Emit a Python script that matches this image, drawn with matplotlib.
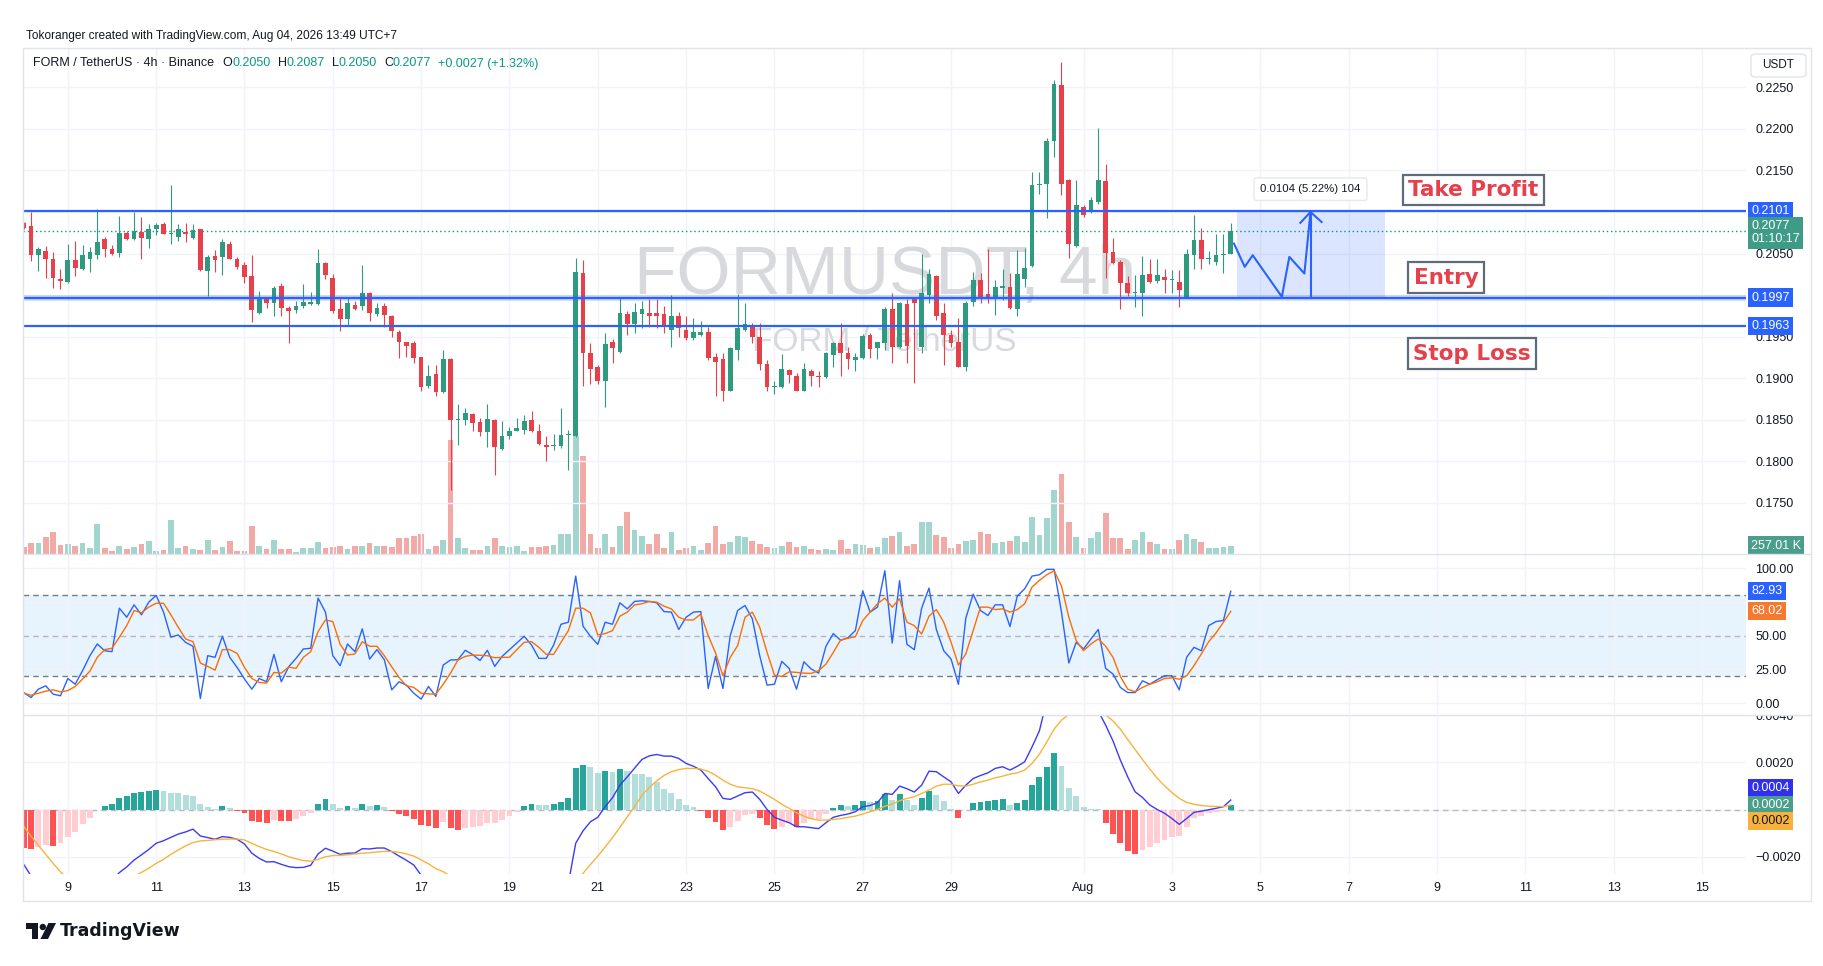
import matplotlib
matplotlib.use("Agg")
import matplotlib.pyplot as plt
import matplotlib.dates as mdates
from matplotlib.patches import Rectangle, Ellipse, Polygon, FancyBboxPatch
from matplotlib.lines import Line2D
from matplotlib.ticker import FuncFormatter, FixedLocator
import numpy as np
import pandas as pd

plt.rcParams['font.family'] = ['Liberation Sans', 'DejaVu Sans']

# ---------------- data (FORM/USDT 4h) ----------------
start = "2026-07-08 00:00"

opens = [
    0.2087, 0.2083, 0.2048, 0.2053, 0.2044, 0.2019, 0.2016, 0.2042, 0.2032, 0.2044,
    0.2048, 0.2068, 0.2056, 0.2051, 0.2075, 0.2067, 0.2076, 0.2068, 0.2080, 0.2086,
    0.2074, 0.2070, 0.2076, 0.2069, 0.2079, 0.2029, 0.2047, 0.2046, 0.2062, 0.2043,
    0.2036, 0.2023, 0.1978, 0.1997, 0.1990, 0.2011, 0.1985, 0.1982, 0.1987, 0.1989,
    0.1989, 0.2039, 0.2021, 0.1983, 0.1971, 0.1988, 0.1987, 0.2002, 0.1977, 0.1987,
    0.1975, 0.1956, 0.1943, 0.1942, 0.1925, 0.1890, 0.1905, 0.1883, 0.1923, 0.1850,
    0.1850, 0.1857, 0.1847, 0.1835, 0.1850, 0.1815, 0.1830, 0.1837, 0.1838, 0.1850,
    0.1836, 0.1820, 0.1818, 0.1818, 0.1832, 0.1830, 0.2026, 0.1930, 0.1913, 0.1897,
    0.1943, 0.1932, 0.1977, 0.1965, 0.1977, 0.1979, 0.1979, 0.1977, 0.1958, 0.1975,
    0.1958, 0.1948, 0.1952, 0.1956, 0.1925, 0.1923, 0.1885, 0.1934, 0.1958, 0.1963,
    0.1950, 0.1917, 0.1889, 0.1889, 0.1910, 0.1903, 0.1885, 0.1909, 0.1903, 0.1901,
    0.1928, 0.1942, 0.1930, 0.1922, 0.1924, 0.1952, 0.1936, 0.1942, 0.1983, 0.1938,
    0.1989, 0.1995, 0.1938, 0.2000, 0.2023, 0.1978, 0.1952, 0.1944, 0.1913, 0.1992,
    0.2018, 0.2001, 0.1998, 0.2009, 0.2010, 0.1983, 0.2019, 0.2035, 0.2132, 0.2134,
    0.2185, 0.2253, 0.2138, 0.2059, 0.2106, 0.2101, 0.2112, 0.2137, 0.2052, 0.2040,
    0.2014, 0.2003, 0.2003, 0.2025, 0.2017, 0.2022, 0.2018, 0.2016, 0.1997, 0.2048,
    0.2066, 0.2043, 0.2040, 0.2048, 0.2050]

highs = [
    0.2088, 0.2100, 0.2058, 0.2059, 0.2052, 0.2031, 0.2062, 0.2065, 0.2060, 0.2058,
    0.2104, 0.2070, 0.2060, 0.2095, 0.2077, 0.2100, 0.2094, 0.2085, 0.2087, 0.2088,
    0.2132, 0.2085, 0.2087, 0.2086, 0.2080, 0.2048, 0.2054, 0.2068, 0.2065, 0.2046,
    0.2040, 0.2048, 0.2005, 0.1998, 0.2011, 0.2015, 0.1987, 0.1993, 0.2013, 0.2004,
    0.2055, 0.2040, 0.2025, 0.1997, 0.1997, 0.1993, 0.2036, 0.2004, 0.1991, 0.1991,
    0.1976, 0.1958, 0.1944, 0.1945, 0.1926, 0.1916, 0.1916, 0.1934, 0.1924, 0.1869,
    0.1864, 0.1858, 0.1852, 0.1869, 0.1851, 0.1848, 0.1841, 0.1852, 0.1856, 0.1860,
    0.1845, 0.1830, 0.1833, 0.1864, 0.1838, 0.2045, 0.2042, 0.1942, 0.1916, 0.1954,
    0.1947, 0.1997, 0.1981, 0.1990, 0.1993, 0.1995, 0.1995, 0.1987, 0.2000, 0.1980,
    0.1975, 0.1973, 0.1969, 0.1962, 0.1930, 0.1930, 0.1938, 0.2001, 0.1991, 0.1966,
    0.1966, 0.1922, 0.1897, 0.1929, 0.1911, 0.1906, 0.1918, 0.1911, 0.1909, 0.1932,
    0.1944, 0.1967, 0.1937, 0.1930, 0.1953, 0.1954, 0.1944, 0.1986, 0.2002, 0.1992,
    0.1995, 0.1998, 0.2049, 0.2031, 0.2024, 0.1990, 0.1958, 0.1972, 0.1993, 0.2028,
    0.2026, 0.2056, 0.2018, 0.2032, 0.2026, 0.2054, 0.2057, 0.2148, 0.2148, 0.2189,
    0.2259, 0.2280, 0.2140, 0.2138, 0.2109, 0.2118, 0.2201, 0.2158, 0.2069, 0.2042,
    0.2023, 0.2024, 0.2047, 0.2043, 0.2044, 0.2031, 0.2030, 0.2030, 0.2055, 0.2097,
    0.2081, 0.2053, 0.2073, 0.2074, 0.2087]

lows = [
    0.2080, 0.2041, 0.2029, 0.2020, 0.2008, 0.2007, 0.2015, 0.2023, 0.2030, 0.2028,
    0.2043, 0.2046, 0.2048, 0.2046, 0.2066, 0.2066, 0.2044, 0.2057, 0.2072, 0.2073,
    0.2061, 0.2065, 0.2064, 0.2068, 0.2029, 0.1999, 0.2028, 0.2024, 0.2043, 0.2032,
    0.2015, 0.1968, 0.1977, 0.1985, 0.1975, 0.1975, 0.1942, 0.1978, 0.1985, 0.1988,
    0.1988, 0.2019, 0.1979, 0.1957, 0.1964, 0.1982, 0.1982, 0.1969, 0.1975, 0.1962,
    0.1949, 0.1924, 0.1925, 0.1918, 0.1885, 0.1888, 0.1879, 0.1882, 0.1766, 0.1819,
    0.1844, 0.1837, 0.1831, 0.1817, 0.1784, 0.1813, 0.1827, 0.1836, 0.1833, 0.1835,
    0.1819, 0.1800, 0.1814, 0.1816, 0.1789, 0.1829, 0.1891, 0.1893, 0.1893, 0.1865,
    0.1918, 0.1930, 0.1952, 0.1954, 0.1961, 0.1962, 0.1961, 0.1954, 0.1937, 0.1950,
    0.1946, 0.1946, 0.1951, 0.1922, 0.1878, 0.1873, 0.1884, 0.1922, 0.1957, 0.1942,
    0.1910, 0.1885, 0.1881, 0.1888, 0.1894, 0.1884, 0.1884, 0.1891, 0.1889, 0.1900,
    0.1913, 0.1903, 0.1911, 0.1909, 0.1923, 0.1924, 0.1923, 0.1934, 0.1918, 0.1936,
    0.1918, 0.1894, 0.1930, 0.1990, 0.1970, 0.1916, 0.1937, 0.1913, 0.1909, 0.1987,
    0.1991, 0.1990, 0.1976, 0.1994, 0.1983, 0.1975, 0.2010, 0.2034, 0.2122, 0.2093,
    0.2166, 0.2121, 0.2045, 0.2058, 0.2094, 0.2099, 0.2110, 0.2020, 0.2037, 0.1983,
    0.1999, 0.1986, 0.1975, 0.2014, 0.2014, 0.2002, 0.2003, 0.1986, 0.1996, 0.2031,
    0.2031, 0.2038, 0.2036, 0.2026, 0.2050]

closes = [
    0.2081, 0.2048, 0.2055, 0.2043, 0.2020, 0.2017, 0.2042, 0.2033, 0.2048, 0.2052,
    0.2064, 0.2056, 0.2049, 0.2075, 0.2068, 0.2077, 0.2069, 0.2079, 0.2084, 0.2074,
    0.2075, 0.2079, 0.2073, 0.2078, 0.2030, 0.2046, 0.2042, 0.2064, 0.2044, 0.2034,
    0.2022, 0.1982, 0.1997, 0.1991, 0.2009, 0.1984, 0.1981, 0.1987, 0.1992, 0.1992,
    0.2039, 0.2024, 0.1981, 0.1971, 0.1991, 0.1983, 0.2002, 0.1978, 0.1985, 0.1976,
    0.1957, 0.1943, 0.1939, 0.1924, 0.1889, 0.1903, 0.1883, 0.1923, 0.1850, 0.1851,
    0.1858, 0.1846, 0.1835, 0.1851, 0.1817, 0.1830, 0.1836, 0.1840, 0.1849, 0.1836,
    0.1821, 0.1817, 0.1819, 0.1832, 0.1833, 0.2028, 0.1930, 0.1911, 0.1897, 0.1941,
    0.1936, 0.1978, 0.1965, 0.1980, 0.1983, 0.1975, 0.1975, 0.1962, 0.1975, 0.1961,
    0.1948, 0.1955, 0.1956, 0.1924, 0.1919, 0.1885, 0.1936, 0.1960, 0.1965, 0.1950,
    0.1917, 0.1889, 0.1890, 0.1911, 0.1904, 0.1885, 0.1911, 0.1903, 0.1901, 0.1930,
    0.1942, 0.1930, 0.1923, 0.1926, 0.1951, 0.1935, 0.1943, 0.1983, 0.1938, 0.1990,
    0.1939, 0.1990, 0.2002, 0.2025, 0.1975, 0.1952, 0.1942, 0.1914, 0.1991, 0.2018,
    0.1998, 0.1997, 0.2010, 0.2011, 0.1984, 0.2025, 0.2033, 0.2133, 0.2134, 0.2185,
    0.2254, 0.2134, 0.2061, 0.2108, 0.2096, 0.2115, 0.2139, 0.2051, 0.2039, 0.2015,
    0.2003, 0.2004, 0.2024, 0.2016, 0.2024, 0.2018, 0.2019, 0.2006, 0.2049, 0.2066,
    0.2043, 0.2044, 0.2048, 0.2050, 0.2077]

# volume in thousands
volumes = [
    214, 342, 342, 535, 685, 278, 300, 235, 342, 171,
    942, 171, 86, 235, 150, 214, 321, 407, 86, 128,
    1070, 171, 235, 150, 107, 428, 128, 214, 407, 86,
    86, 899, 235, 150, 449, 150, 150, 43, 171, 171,
    385, 171, 214, 257, 150, 257, 257, 342, 235, 235,
    214, 492, 514, 578, 621, 150, 257, 428, 3659, 514,
    171, 107, 107, 235, 492, 235, 214, 235, 86, 214,
    214, 235, 278, 642, 621, 3766, 3124, 621, 193, 642,
    214, 899, 1348, 770, 578, 321, 621, 171, 685, 128,
    171, 235, 128, 342, 899, 321, 385, 556, 535, 407,
    300, 214, 171, 235, 364, 214, 235, 150, 128, 150,
    128, 449, 150, 300, 278, 171, 214, 514, 556, 706,
    235, 300, 1027, 1027, 599, 535, 171, 321, 407, 428,
    685, 621, 342, 385, 407, 578, 385, 1177, 599, 1156,
    2033, 2568, 1027, 535, 171, 492, 685, 1305, 492, 514,
    150, 428, 685, 364, 300, 150, 150, 428, 642, 471,
    364, 171, 171, 214, 257.01]

stoch_k = [
    7.8, 4.1, 10.3, 12.8, 6.6, 5.4, 18.2, 14.0, 24.0, 35.1,
    43.8, 38.8, 38.1, 70.3, 63.6, 72.8, 65.4, 74.8, 79.8, 67.4,
    48.8, 50.5, 45.0, 42.1, 3.4, 35.1, 33.9, 49.5, 33.9, 26.4,
    17.8, 10.3, 18.2, 15.8, 36.1, 15.8, 26.9, 33.1, 40.1, 40.6,
    77.8, 67.4, 35.1, 27.7, 43.8, 38.1, 55.0, 32.6, 39.6, 32.1,
    9.8, 15.8, 13.3, 7.3, 2.9, 12.3, 4.9, 28.2, 31.9, 32.1,
    39.1, 35.9, 31.6, 39.1, 27.2, 34.6, 39.6, 44.5, 49.5, 43.0,
    33.1, 33.1, 43.0, 58.4, 59.9, 94.1, 56.9, 49.5, 43.5, 59.9,
    58.4, 74.3, 69.8, 75.3, 75.8, 75.3, 74.3, 67.8, 67.4, 54.5,
    63.6, 67.4, 67.8, 10.8, 34.6, 10.8, 50.0, 68.6, 72.3, 62.4,
    35.1, 13.3, 14.0, 30.9, 25.7, 10.3, 30.6, 25.2, 22.2, 42.1,
    51.5, 46.5, 48.5, 53.7, 83.2, 67.4, 71.1, 98.1, 44.5, 90.7,
    43.5, 39.6, 70.3, 85.2, 54.5, 38.8, 32.6, 13.8, 62.9, 80.7,
    68.6, 64.9, 72.8, 72.8, 56.7, 79.3, 84.7, 94.1, 95.1, 99.1,
    99.1, 67.4, 29.7, 45.0, 40.1, 47.5, 54.5, 25.7, 21.5, 11.6,
    7.8, 7.8, 16.5, 14.0, 17.3, 20.2, 20.2, 9.8, 33.9, 41.3,
    38.8, 57.4, 60.4, 61.2, 82.93]

stoch_d = [
    7.3, 5.8, 7.3, 8.8, 9.8, 8.3, 9.3, 12.3, 17.8, 23.7,
    33.9, 39.6, 40.6, 48.8, 57.4, 68.6, 66.9, 71.1, 74.0, 74.0,
    65.4, 56.2, 47.5, 45.5, 29.7, 27.2, 24.4, 39.6, 39.6, 36.8,
    26.4, 18.2, 15.3, 14.8, 22.7, 22.2, 26.7, 25.7, 33.9, 38.1,
    53.0, 61.6, 60.4, 43.5, 35.6, 36.4, 45.5, 42.1, 42.1, 35.1,
    26.9, 19.0, 12.8, 11.6, 7.3, 6.8, 6.6, 14.0, 22.2, 31.9,
    34.6, 35.6, 35.4, 35.1, 33.6, 33.9, 33.9, 39.6, 45.0, 45.5,
    41.3, 36.1, 36.1, 45.0, 53.7, 70.3, 70.3, 66.9, 50.5, 51.5,
    53.7, 64.4, 67.4, 72.8, 73.6, 75.3, 74.8, 71.8, 69.8, 63.6,
    61.6, 61.6, 66.1, 50.0, 37.1, 20.2, 33.9, 42.6, 63.6, 67.4,
    56.2, 37.6, 20.7, 19.7, 23.2, 22.7, 22.2, 22.0, 24.0, 28.9,
    37.6, 46.8, 48.0, 49.2, 61.2, 67.4, 73.6, 77.8, 71.1, 77.3,
    59.9, 57.4, 51.2, 64.4, 69.3, 59.9, 45.0, 28.2, 36.4, 53.7,
    71.1, 71.1, 69.3, 69.8, 67.4, 69.3, 73.6, 86.0, 90.9, 95.1,
    98.1, 86.7, 63.6, 46.3, 38.8, 43.8, 47.5, 42.1, 33.9, 19.7,
    10.3, 8.3, 11.6, 14.0, 15.8, 18.2, 18.7, 17.7, 20.2, 27.7,
    36.4, 45.5, 52.0, 59.9, 68.02]

macd = [
    -0.00231, -0.00280, -0.00308, -0.00339, -0.00379, -0.00405, -0.00406, -0.00407, -0.00390, -0.00373,
    -0.00340, -0.00318, -0.00303, -0.00266, -0.00242, -0.00213, -0.00191, -0.00168, -0.00142, -0.00131,
    -0.00117, -0.00103, -0.00094, -0.00082, -0.00111, -0.00118, -0.00125, -0.00114, -0.00117, -0.00125,
    -0.00145, -0.00184, -0.00206, -0.00221, -0.00220, -0.00231, -0.00241, -0.00245, -0.00244, -0.00235,
    -0.00187, -0.00163, -0.00175, -0.00189, -0.00184, -0.00183, -0.00165, -0.00166, -0.00162, -0.00162,
    -0.00177, -0.00196, -0.00214, -0.00234, -0.00277, -0.00298, -0.00326, -0.00314, -0.00360, -0.00389,
    -0.00398, -0.00411, -0.00428, -0.00429, -0.00442, -0.00440, -0.00430, -0.00416, -0.00388, -0.00374,
    -0.00370, -0.00367, -0.00358, -0.00339, -0.00313, -0.00142, -0.00089, -0.00051, -0.00032, 0.00013,
    0.00051, 0.00104, 0.00139, 0.00176, 0.00213, 0.00228, 0.00234, 0.00227, 0.00227, 0.00217,
    0.00196, 0.00184, 0.00168, 0.00132, 0.00097, 0.00048, 0.00044, 0.00058, 0.00072, 0.00075,
    0.00044, 0.00001, -0.00032, -0.00044, -0.00055, -0.00072, -0.00072, -0.00076, -0.00080, -0.00055,
    -0.00032, -0.00024, -0.00018, -0.00008, 0.00013, 0.00018, 0.00030, 0.00069, 0.00065, 0.00100,
    0.00089, 0.00075, 0.00104, 0.00163, 0.00161, 0.00139, 0.00118, 0.00069, 0.00104, 0.00132,
    0.00145, 0.00156, 0.00175, 0.00182, 0.00168, 0.00184, 0.00203, 0.00266, 0.00334, 0.00463,
    0.00579, 0.00566, 0.00498, 0.00473, 0.00428, 0.00422, 0.00418, 0.00358, 0.00291, 0.00210,
    0.00139, 0.00076, 0.00052, 0.00020, 0.00001, -0.00015, -0.00037, -0.00062, -0.00037, -0.00011,
    -0.00006, 0.00000, 0.00006, 0.00013, 0.00041]

signal = [
    -0.00070, -0.00112, -0.00151, -0.00189, -0.00227, -0.00263, -0.00291, -0.00314, -0.00329, -0.00338,
    -0.00339, -0.00334, -0.00328, -0.00315, -0.00301, -0.00283, -0.00265, -0.00248, -0.00227, -0.00210,
    -0.00189, -0.00170, -0.00153, -0.00139, -0.00132, -0.00130, -0.00127, -0.00125, -0.00124, -0.00124,
    -0.00128, -0.00142, -0.00156, -0.00168, -0.00177, -0.00187, -0.00199, -0.00208, -0.00215, -0.00218,
    -0.00210, -0.00199, -0.00194, -0.00193, -0.00191, -0.00187, -0.00184, -0.00182, -0.00179, -0.00176,
    -0.00177, -0.00180, -0.00187, -0.00196, -0.00212, -0.00229, -0.00249, -0.00262, -0.00281, -0.00303,
    -0.00322, -0.00340, -0.00357, -0.00372, -0.00386, -0.00397, -0.00403, -0.00406, -0.00402, -0.00397,
    -0.00391, -0.00386, -0.00381, -0.00372, -0.00360, -0.00316, -0.00269, -0.00232, -0.00196, -0.00158,
    -0.00118, -0.00075, -0.00030, 0.00013, 0.00062, 0.00094, 0.00122, 0.00145, 0.00161, 0.00170,
    0.00175, 0.00175, 0.00172, 0.00163, 0.00146, 0.00125, 0.00108, 0.00097, 0.00093, 0.00089,
    0.00079, 0.00062, 0.00044, 0.00023, 0.00006, -0.00013, -0.00027, -0.00038, -0.00044, -0.00044,
    -0.00041, -0.00038, -0.00032, -0.00027, -0.00018, -0.00008, 0.00001, 0.00015, 0.00024, 0.00038,
    0.00048, 0.00055, 0.00069, 0.00083, 0.00100, 0.00108, 0.00108, 0.00101, 0.00100, 0.00108,
    0.00118, 0.00125, 0.00135, 0.00142, 0.00151, 0.00156, 0.00168, 0.00196, 0.00235, 0.00287,
    0.00341, 0.00379, 0.00404, 0.00415, 0.00418, 0.00418, 0.00415, 0.00401, 0.00376, 0.00341,
    0.00297, 0.00255, 0.00213, 0.00172, 0.00134, 0.00101, 0.00073, 0.00048, 0.00031, 0.00023,
    0.00018, 0.00015, 0.00014, 0.00013, 0.00020]

hist = [
    -0.00161, -0.00168, -0.00156, -0.00151, -0.00152, -0.00142, -0.00114, -0.00093, -0.00061, -0.00035,
    -0.00001, 0.00017, 0.00025, 0.00051, 0.00058, 0.00072, 0.00075, 0.00080, 0.00084, 0.00080,
    0.00072, 0.00069, 0.00062, 0.00058, 0.00025, 0.00013, 0.00004, 0.00014, 0.00008, -0.00007,
    -0.00015, -0.00048, -0.00054, -0.00058, -0.00044, -0.00048, -0.00049, -0.00039, -0.00027, -0.00014,
    0.00025, 0.00044, 0.00025, 0.00008, 0.00014, 0.00008, 0.00023, 0.00017, 0.00020, 0.00011,
    -0.00004, -0.00020, -0.00027, -0.00041, -0.00065, -0.00069, -0.00077, -0.00052, -0.00079, -0.00086,
    -0.00076, -0.00072, -0.00070, -0.00058, -0.00056, -0.00044, -0.00027, -0.00010, 0.00014, 0.00023,
    0.00021, 0.00020, 0.00023, 0.00034, 0.00048, 0.00176, 0.00189, 0.00180, 0.00155, 0.00163,
    0.00159, 0.00172, 0.00166, 0.00152, 0.00151, 0.00138, 0.00118, 0.00087, 0.00072, 0.00046,
    0.00021, 0.00010, -0.00007, -0.00037, -0.00052, -0.00086, -0.00072, -0.00048, -0.00023, -0.00018,
    -0.00037, -0.00065, -0.00082, -0.00072, -0.00058, -0.00075, -0.00055, -0.00041, -0.00038, -0.00018,
    0.00008, 0.00018, 0.00017, 0.00020, 0.00035, 0.00032, 0.00038, 0.00066, 0.00041, 0.00068,
    0.00041, 0.00021, 0.00051, 0.00079, 0.00062, 0.00035, 0.00004, -0.00037, -0.00003, 0.00030,
    0.00034, 0.00035, 0.00042, 0.00044, 0.00021, 0.00030, 0.00042, 0.00104, 0.00138, 0.00183,
    0.00242, 0.00187, 0.00094, 0.00058, 0.00010, 0.00004, 0.00003, -0.00058, -0.00101, -0.00142,
    -0.00173, -0.00186, -0.00170, -0.00156, -0.00142, -0.00128, -0.00114, -0.00113, -0.00075, -0.00037,
    -0.00027, -0.00015, -0.00010, -0.00006, 0.00021]

# trade drawing
take_profit = 0.2101
entry = 0.1997
stop_loss = 0.1963
zone_span = ["2026-08-04 11:30", "2026-08-07 20:00"]
path_times = ["2026-08-04 09:45", "2026-08-04 15:35", "2026-08-04 19:55",
              "2026-08-05 11:45", "2026-08-05 15:50", "2026-08-06 00:00", "2026-08-06 03:20"]
path_prices = [0.2062, 0.2034, 0.2048, 0.1998, 0.2046, 0.2026, 0.2100]
head_times = ["2026-08-05 21:50", "2026-08-06 03:20", "2026-08-06 09:20"]
head_prices = [0.2087, 0.2100, 0.2088]
label_times = ["2026-08-09 19:55", "2026-08-09 05:00", "2026-08-09 19:00"]
label_prices = [0.21264, 0.20209, 0.19294]
label_texts = ["Take Profit", "Entry", "Stop Loss"]
measure_text = "0.0104 (5.22%) 104"
measure_price = 0.21275

tick_dates = ["2026-07-09", "2026-07-11", "2026-07-13", "2026-07-15", "2026-07-17",
              "2026-07-19", "2026-07-21", "2026-07-23", "2026-07-25", "2026-07-27",
              "2026-07-29", "2026-08-01", "2026-08-03", "2026-08-05", "2026-08-07",
              "2026-08-09", "2026-08-11", "2026-08-13", "2026-08-15"]
tick_labels = ["9", "11", "13", "15", "17", "19", "21", "23", "25", "27", "29",
               "Aug", "3", "5", "7", "9", "11", "13", "15"]

# ---------------- layout ----------------
W, H = 1824, 966
L, R = 23.5, 1746
DARK = '#131722'
UP, DOWN = '#2e9a80', '#e8404b'
VUP, VDOWN = '#a2d5cd', '#f2aaa7'
BLUE = '#2962ff'
GRID = '#f0f3fa'
BORDER = '#e0e3eb'

fig = plt.figure(figsize=(W / 100, H / 100), dpi=100)
fig.patch.set_facecolor('white')


def pane(top, bottom):
    return fig.add_axes([L / W, 1 - bottom / H, (R - L) / W, (bottom - top) / H])


def scale_fmt(fmt, covered, tol):
    # price-scale labels that sit under a value box are not shown, as on the chart
    def f(v, p):
        if any(abs(v - cv) < tol for cv in covered):
            return ""
        return fmt(v).replace('-', '\u2212')
    return FuncFormatter(f)


x = mdates.date2num(pd.date_range(start, periods=len(opens), freq="4h"))
bar = 1 / 6
xt = mdates.date2num(pd.to_datetime(tick_dates))
xlim = (x[0] - 0.004, mdates.date2num(pd.Timestamp("2026-08-16")))

ax = pane(49, 553.5)
axv = ax.twinx()
ax_rsi = pane(554.5, 714)
ax_macd = pane(715, 874)


def style(a, yticks, formatter):
    for s in a.spines.values():
        s.set_visible(False)
    a.set_xlim(*xlim)
    a.xaxis.set_major_locator(FixedLocator(xt))
    a.yaxis.tick_right()
    a.set_yticks(yticks)
    a.yaxis.set_major_formatter(formatter)
    a.tick_params(axis='both', length=0, labelsize=9, labelcolor=DARK, pad=6.5)
    a.tick_params(axis='x', labelbottom=False)
    a.grid(True, color=GRID, lw=1)
    a.set_axisbelow(True)


style(ax, np.arange(0.175, 0.2251, 0.005),
      scale_fmt(lambda v: f"{v:.4f}", [take_profit, entry], 0.0006))
ax.set_ylim(0.16890, 0.22962)
style(ax_rsi, [0, 25, 50, 75, 100],
      scale_fmt(lambda v: f"{v:.2f}", [stoch_k[-1], stoch_d[-1]], 8.5))
ax_rsi.set_ylim(-8.1, 110.1)
style(ax_macd, [-0.002, 0.0, 0.002, 0.004],
      scale_fmt(lambda v: f"{v:.4f}", [hist[-1]], 0.0004))
ax_macd.set_ylim(-0.00272, 0.00401)
ax_macd.set_xticks(xt)
ax_macd.set_xticklabels(tick_labels)
ax_macd.tick_params(axis='x', labelbottom=True, pad=5.5)

# ---------------- volume ----------------
o, hi, lo, c = map(np.array, (opens, highs, lows, closes))
up = c >= o
ax.set_zorder(axv.get_zorder() + 1)
ax.patch.set_visible(False)
axv.patch.set_visible(False)
axv.bar(x, volumes, width=0.78 * bar, color=np.where(up, VUP, VDOWN), lw=0)
axv.set_ylim(0, max(volumes) * 4.31)
axv.set_yticks([])
for s in axv.spines.values():
    s.set_visible(False)
axv.text(1.0031, volumes[-1], f"{volumes[-1]:.2f} K", transform=axv.get_yaxis_transform(),
         ha='left', va='center', color='white', fontsize=9, clip_on=False,
         bbox=dict(boxstyle='square,pad=0.25', fc='#4a9e8b', ec='none'))

# ---------------- candles ----------------
ax.text(0.5, 0.55, "FORMUSDT, 4h", transform=ax.transAxes, fontsize=50,
        color='#d8d9dd', ha='center', va='center', zorder=1)
ax.text(0.5, 0.418, "FORM / TetherUS", transform=ax.transAxes, fontsize=24,
        color='#d8d9dd', ha='center', va='center', zorder=1)

ccol = np.where(up, UP, DOWN)
ax.vlines(x, lo, hi, colors=ccol, lw=0.8, zorder=3)
body_lo = np.minimum(o, c)
body_h = np.maximum(np.abs(c - o), 0.00012)
ax.bar(x, body_h, bottom=body_lo, width=0.64 * bar, color=ccol, lw=0, zorder=4)

ax.axhline(c[-1], color='#089981', lw=1, ls=(0, (1, 2)), zorder=2.5)

# ---------------- trade drawing ----------------
zt = mdates.date2num(pd.to_datetime(zone_span))
ax.fill_between(zt, entry, take_profit, color=BLUE, alpha=0.16, lw=0, zorder=2)
ax.axhline(take_profit, color=BLUE, lw=1.6, zorder=6)
ax.axhline(entry, color=BLUE, lw=4, alpha=0.25, zorder=6)
ax.axhline(entry, color=BLUE, lw=1.6, zorder=6)
ax.axhline(stop_loss, color=BLUE, lw=1.6, zorder=6)

pt = mdates.date2num(pd.to_datetime(path_times))
ax.plot(pt, path_prices, color=BLUE, lw=1.5, zorder=7)
ax.plot([pt[-1], pt[-1]], [entry, path_prices[-1]], color=BLUE, lw=1.5, zorder=7)
ax.plot(mdates.date2num(pd.to_datetime(head_times)), head_prices, color=BLUE, lw=1.5, zorder=7)
ax.text(pt[-1], measure_price, measure_text, fontsize=8.2, color=DARK, ha='center', va='center',
        zorder=8, bbox=dict(boxstyle='round,pad=0.55,rounding_size=0.2', fc='white', ec='#e6e8ee', lw=1))

lt = mdates.date2num(pd.to_datetime(label_times))
for tx, py, s in zip(lt, label_prices, label_texts):
    ax.text(tx, py, s, fontsize=15.5, fontweight='bold', family='DejaVu Sans', color='#e5404c',
            ha='center', va='center', zorder=9,
            bbox=dict(boxstyle='square,pad=0.25', fc='white', ec='#5d6b7b', lw=1.6))

# price scale labels
for val in (take_profit, entry, stop_loss):
    ax.text(1.0031, val, f"{val:.4f}", transform=ax.get_yaxis_transform(), ha='left', va='center',
            color='white', fontsize=9, zorder=20, clip_on=False,
            bbox=dict(boxstyle='square,pad=0.25', fc=BLUE, ec='none'))
ax.text(1.0031, c[-1] - 0.0002, f"{c[-1]:.4f}\n01:10:17", transform=ax.get_yaxis_transform(),
        ha='left', va='center', color='white', fontsize=9, zorder=20, clip_on=False,
        linespacing=1.15, bbox=dict(boxstyle='square,pad=0.25', fc='#3e9b85', ec='none'))

# ---------------- stoch RSI ----------------
ax_rsi.axhspan(20, 80, color='#2196f3', alpha=0.1, lw=0, zorder=0.5)
for lvl, al in ((80, 1.0), (50, 0.5), (20, 1.0)):
    ax_rsi.axhline(lvl, color='#787b86', lw=1, ls=(0, (4, 3)), alpha=al, zorder=1)
ax_rsi.plot(x, stoch_k, color=BLUE, lw=1, zorder=3)
ax_rsi.plot(x, stoch_d, color='#ff6d00', lw=1, zorder=3)
for val, col in ((stoch_k[-1], BLUE), (stoch_d[-1], '#f57a2f')):
    ax_rsi.text(1.0031, val, f"{val:.2f}", transform=ax_rsi.get_yaxis_transform(), ha='left',
                va='center', color='white', fontsize=9, zorder=20, clip_on=False,
                bbox=dict(boxstyle='square,pad=0.25', fc=col, ec='none'))

# ---------------- MACD ----------------
hv = np.array(hist)
prev = np.r_[0.0, hv[:-1]]
hcol = np.where(hv >= 0, np.where(hv >= prev, '#26a69a', '#b2dfdb'),
                np.where(hv < prev, '#ff5252', '#ffcdd2'))
ax_macd.axhline(0, color='#b8bac1', lw=1, ls=(0, (4, 3)), zorder=1.5)
ax_macd.bar(x, hv, width=0.8 * bar, color=hcol, lw=0, zorder=2)
ax_macd.plot(x, macd, color='#3b3bf2', lw=1, zorder=3)
ax_macd.plot(x, signal, color='#f8b33c', lw=1, zorder=3)
box_h = 0.00070
for val, off, col, tc in ((macd[-1], box_h, '#3030ee', 'white'),
                          (hist[-1], 0.0, '#4a9e8b', 'white'),
                          (signal[-1], -box_h, '#f6b23c', DARK)):
    ax_macd.text(1.0031, hist[-1] + off, f"{val:.4f}", transform=ax_macd.get_yaxis_transform(),
                 ha='left', va='center', color=tc, fontsize=9, zorder=20, clip_on=False,
                 bbox=dict(boxstyle='square,pad=0.25', fc=col, ec='none'))

clip = Rectangle((0, 0), 1, 1 - 714.5 / H, transform=fig.transFigure)
for lbl in ax_macd.get_yticklabels():
    lbl.set_clip_path(clip)

# ---------------- frame, header, legend ----------------
fig.add_artist(Rectangle((L / W, 1 - 901 / H), (1811 - L) / W, (901 - 48) / H,
                         transform=fig.transFigure, fill=False, ec=BORDER, lw=1, zorder=5))
for yy in (554, 714.5):
    fig.add_artist(Line2D([L / W, 1811 / W], [1 - yy / H] * 2, transform=fig.transFigure,
                          color=BORDER, lw=1, zorder=5))
fig.add_artist(FancyBboxPatch((1751 / W, 1 - 77 / H), 55 / W, 23 / H, transform=fig.transFigure,
                              boxstyle='round,pad=0,rounding_size=0.003', fc='white', ec=BORDER, lw=1))
fig.text(1778.5 / W, 1 - 65.5 / H, "USDT", fontsize=8.5, color=DARK, ha='center', va='center')

fig.text(25.6 / W, 1 - 36 / H, "Tokoranger created with TradingView.com, Aug 04, 2026 13:49 UTC+7",
         fontsize=8.6, color=DARK, va='center')

TEAL = '#089981'
chg = c[-1] - c[-2]
pieces = [("FORM / TetherUS \u00b7 4h \u00b7 Binance", DARK, 9),
          ("O", DARK, 0), (f"{o[-1]:.4f}", TEAL, 7),
          ("H", DARK, 0), (f"{hi[-1]:.4f}", TEAL, 7),
          ("L", DARK, 0), (f"{lo[-1]:.4f}", TEAL, 7),
          ("C", DARK, 0), (f"{c[-1]:.4f}", TEAL, 7),
          (f"{chg:+.4f} ({chg / c[-2] * 100:+.2f}%)", TEAL, 0)]
renderer = fig.canvas.get_renderer()
xpos = 32.6
for s, col, gap in pieces:
    t = fig.text(xpos / W, 1 - 63.5 / H, s, fontsize=9, color=col, va='center', ha='left')
    xpos += t.get_window_extent(renderer).width + gap

# TradingView logo
fig.add_artist(Rectangle((25.6 / W, 1 - 928.5 / H), 12.4 / W, 5.5 / H, transform=fig.transFigure,
                         fc=DARK, ec='none'))
fig.add_artist(Rectangle((32 / W, 1 - 939 / H), 6 / W, 16 / H, transform=fig.transFigure,
                         fc=DARK, ec='none'))
fig.add_artist(Ellipse((42.8 / W, 1 - 927 / H), 6.4 / W, 6.4 / H, transform=fig.transFigure,
                       fc=DARK, ec='none'))
fig.add_artist(Polygon([(40.5 / W, 1 - 939 / H), (48 / W, 1 - 939 / H), (56 / W, 1 - 923 / H),
                        (48.5 / W, 1 - 923 / H)], closed=True, transform=fig.transFigure,
                       fc=DARK, ec='none'))
fig.text(60 / W, 1 - 931 / H, "TradingView", fontsize=12.5, fontweight='bold',
         family='DejaVu Sans', color=DARK, va='center')

fig.savefig("out.png", dpi=100, facecolor='white')
